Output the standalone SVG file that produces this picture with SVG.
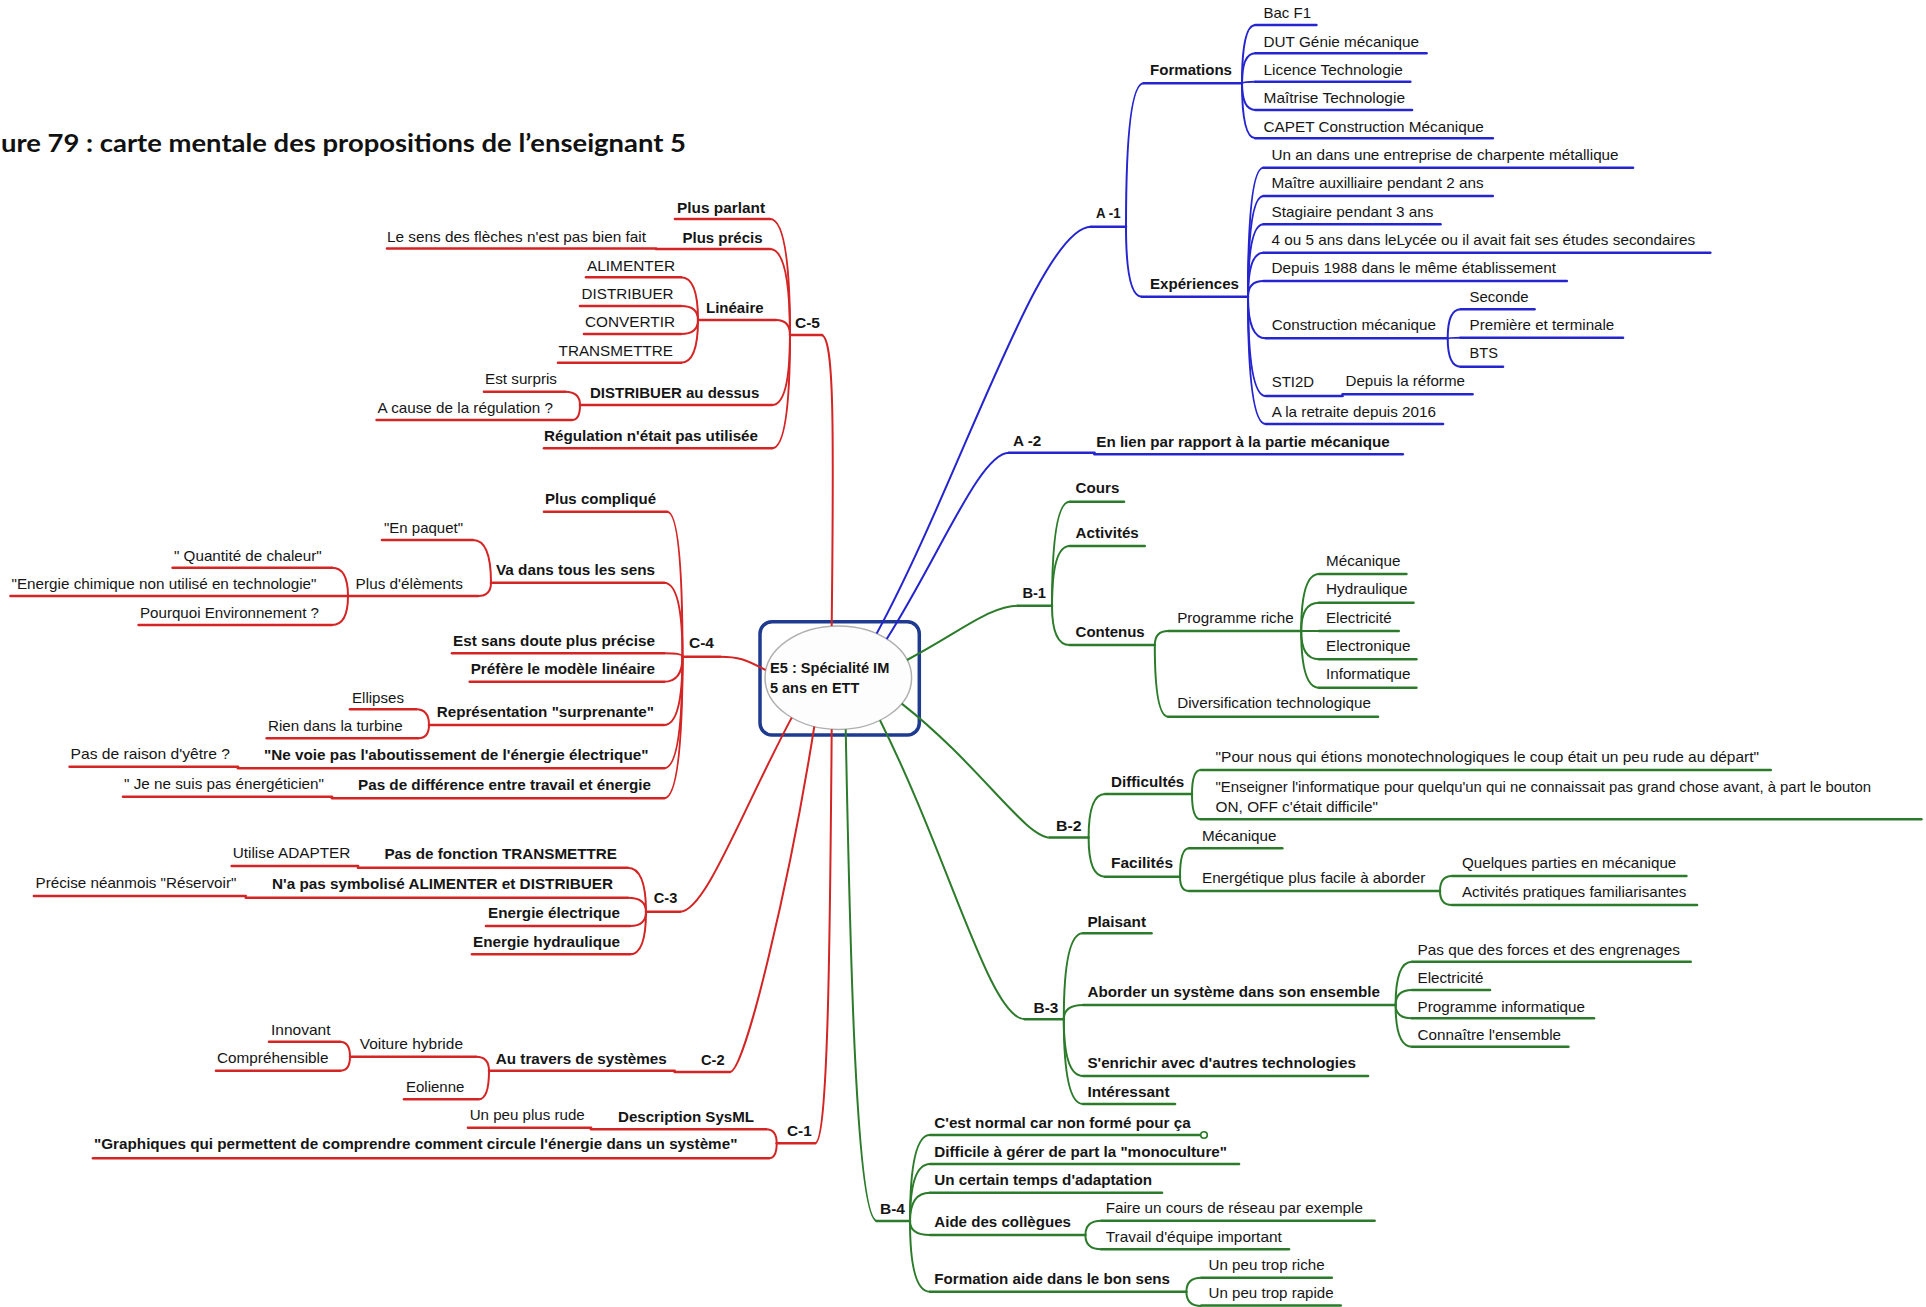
<svg xmlns="http://www.w3.org/2000/svg" width="1926" height="1307" viewBox="0 0 1926 1307">
<style>
.t{font-family:"Liberation Sans",Arial,sans-serif;font-size:15px;fill:#151515}
.b{font-weight:bold}
.ur{stroke:#d42424;stroke-width:2.6;fill:none;stroke-linecap:round}
.ub{stroke:#2424d0;stroke-width:2.6;fill:none;stroke-linecap:round}
.ug{stroke:#2b7b2b;stroke-width:2.6;fill:none;stroke-linecap:round}
.cr{stroke:#d42424;stroke-width:2;fill:none}
.cb{stroke:#2424d0;stroke-width:2;fill:none}
.cg{stroke:#2b7b2b;stroke-width:2;fill:none}
</style>
<rect width="1926" height="1307" fill="#fff"/>
<text x="1" y="152" font-family="Lato,'Liberation Sans',sans-serif" font-weight="bold" font-size="24" fill="#111" textLength="685" lengthAdjust="spacingAndGlyphs">ure 79 : carte mentale des propositions de l’enseignant 5</text>

<g id="center">
<rect x="760" y="621.7" width="159.3" height="113.3" rx="12" fill="#fff" stroke="#1f3b8f" stroke-width="3.5"/>
<ellipse cx="838.3" cy="677.7" rx="73.3" ry="51.7" fill="#fdfdfd" stroke="#b0b0b0" stroke-width="1.5"/>
<text class="t b" x="770" y="673.3" fill="#1a1a3a" textLength="119.3" lengthAdjust="spacingAndGlyphs">E5 : Spécialité IM</text>
<text class="t b" x="770" y="693.3" fill="#1a1a3a" textLength="89.3" lengthAdjust="spacingAndGlyphs">5 ans en ETT</text>
</g>

<g id="connectors">
<g class="cr">
<path d="M831.7 626C834 420 834 335 821 335"/>
<path d="M765.5 670C745 659 738 656.7 720 656.7"/>
<path d="M791.7 717.6C740 815 705 911.7 680 911.7"/>
<path d="M814.3 726.5C790 880 745 1072 730 1072"/>
<path d="M831.7 729.3C830 950 828 1143.3 815 1143.3"/>
<path d="M790 335Q790 219 770 219"/>
<path d="M790 335Q790 249 770 249"/>
<path d="M790 335Q790 320 776 320"/>
<path d="M790 335Q790 405 772 405"/>
<path d="M790 335Q790 448.3 772 448.3"/>
<path d="M698 320Q698 277.3 681 277.3"/>
<path d="M698 320Q698 306 681 306"/>
<path d="M698 320Q698 334 681 334"/>
<path d="M698 320Q698 362.7 681 362.7"/>
<path d="M580 405Q580 391.7 565 391.7"/>
<path d="M580 405Q580 420 572 420"/>
<path d="M682.5 656.7Q682.5 511.7 667 511.7"/>
<path d="M682.5 656.7Q682.5 582.7 664 582.7"/>
<path d="M682.5 656.7Q682.5 653.3 664 653.3"/>
<path d="M682.5 656.7Q682.5 681.7 664 681.7"/>
<path d="M682.5 656.7Q682.5 725 664 725"/>
<path d="M682.5 656.7Q682.5 768.3 664 768.3"/>
<path d="M682.5 656.7Q682.5 798.3 664 798.3"/>
<path d="M491 582.7Q491 540 473 540"/>
<path d="M491 582.7Q491 596 478 596"/>
<path d="M348 596Q348 567.7 332 567.7"/>
<path d="M348 596Q348 625 332 625"/>
<path d="M429 725Q429 709.3 416 709.3"/>
<path d="M429 725Q429 738.3 418 738.3"/>
<path d="M646 911.7Q646 867.7 627.6 867.7"/>
<path d="M646 911.7Q646 897.7 627.6 897.7"/>
<path d="M646 911.7Q646 926 630 926"/>
<path d="M646 911.7Q646 954.3 630 954.3"/>
<path d="M489 1070.7Q489 1056.7 476 1056.7"/>
<path d="M489 1070.7Q489 1099.3 478.5 1099.3"/>
<path d="M350 1056.7Q350 1041.7 340 1041.7"/>
<path d="M350 1056.7Q350 1070.7 340 1070.7"/>
<path d="M776.7 1143.3Q776.7 1129.3 766 1129.3"/>
<path d="M776.7 1143.3Q776.7 1158.3 768.8 1158.3"/>
</g>
<g class="cb">
<path d="M876.7 633.5C960 480 1040 226.7 1091 226.7"/>
<path d="M886.7 639C940 555 980 452.7 1009 452.7"/>
<path d="M1126 226.7Q1126 83.3 1143.7 83.3"/>
<path d="M1126 226.7Q1126 296.7 1141.8 296.7"/>
<path d="M1242 83.3Q1242 25 1255.4 25"/>
<path d="M1242 83.3Q1242 53.3 1255.4 53.3"/>
<path d="M1242 83.3Q1242 81.7 1255.4 81.7"/>
<path d="M1242 83.3Q1242 110 1255.4 110"/>
<path d="M1242 83.3Q1242 138.3 1255.4 138.3"/>
<path d="M1248 296.7Q1248 167.7 1263.5 167.7"/>
<path d="M1248 296.7Q1248 196 1263.5 196"/>
<path d="M1248 296.7Q1248 224.3 1263.5 224.3"/>
<path d="M1248 296.7Q1248 252.7 1263.5 252.7"/>
<path d="M1248 296.7Q1248 281 1263.5 281"/>
<path d="M1248 296.7Q1248 338.3 1265.8 338.3"/>
<path d="M1248 296.7Q1248 396 1265.8 396"/>
<path d="M1248 296.7Q1248 424 1265.8 424"/>
<path d="M1447.7 338.3Q1447.7 309.3 1460.7 309.3"/>
<path d="M1447.7 338.3Q1447.7 337.7 1460.7 337.7"/>
<path d="M1447.7 338.3Q1447.7 366.7 1460.7 366.7"/>
</g>
<g class="cg">
<path d="M907 660C960 632 990 605.7 1018 605.7"/>
<path d="M901.7 703.6C980 765 1025 837.5 1050 837.5"/>
<path d="M880 720.2C950 860 990 1019.3 1025 1019.3"/>
<path d="M845.7 729.3C850 950 856 1221 877 1221"/>
<path d="M1052 605.7Q1052 501.7 1069.7 501.7"/>
<path d="M1052 605.7Q1052 546 1069.7 546"/>
<path d="M1052 605.7Q1052 645 1069.7 645"/>
<path d="M1154.8 645Q1154.8 631 1168.3 631"/>
<path d="M1154.8 645Q1154.8 716.7 1168.3 716.7"/>
<path d="M1301.2 631Q1301.2 574 1319 574"/>
<path d="M1301.2 631Q1301.2 602.7 1319 602.7"/>
<path d="M1301.2 631L1319 631"/>
<path d="M1301.2 631Q1301.2 659.3 1319 659.3"/>
<path d="M1301.2 631Q1301.2 687.7 1319 687.7"/>
<path d="M1088.6 837.5Q1088.6 794 1105 794"/>
<path d="M1088.6 837.5Q1088.6 876.7 1105 876.7"/>
<path d="M1192 794Q1192 770 1200.8 770"/>
<path d="M1192 794Q1192 819.3 1200.8 819.3"/>
<path d="M1180 876.7Q1180 848.3 1189 848.3"/>
<path d="M1180 876.7Q1180 891 1189 891"/>
<path d="M1440 891Q1440 876 1451.9 876"/>
<path d="M1440 891Q1440 905 1451.9 905"/>
<path d="M1063.8 1019.3Q1063.8 933.3 1083 933.3"/>
<path d="M1063.8 1019.3Q1063.8 1005 1083 1005"/>
<path d="M1063.8 1019.3Q1063.8 1076 1083 1076"/>
<path d="M1063.8 1019.3Q1063.8 1104 1083 1104"/>
<path d="M1395.6 1005Q1395.6 961.7 1412 961.7"/>
<path d="M1395.6 1005Q1395.6 990 1412 990"/>
<path d="M1395.6 1005Q1395.6 1018.3 1412 1018.3"/>
<path d="M1395.6 1005Q1395.6 1046.7 1412 1046.7"/>
<path d="M910 1221Q910 1135 930 1135"/>
<path d="M910 1221Q910 1164 930 1164"/>
<path d="M910 1221Q910 1192.7 930 1192.7"/>
<path d="M910 1221Q910 1235 930 1235"/>
<path d="M910 1221Q910 1291.7 930 1291.7"/>
<path d="M1085.4 1235Q1085.4 1220.7 1101.4 1220.7"/>
<path d="M1085.4 1235Q1085.4 1249.3 1101.4 1249.3"/>
<path d="M1186.4 1291.7Q1186.4 1277.7 1201.4 1277.7"/>
<path d="M1186.4 1291.7Q1186.4 1306 1201.4 1306"/>
</g>
</g>

<!-- C-5 -->
<g id="c5"><path class="ur" d="M790 335H822"/><text class="t b" x="795" y="327.7" textLength="25" lengthAdjust="spacingAndGlyphs">C-5</text></g>
<g id="c5-parlant"><path class="ur" d="M675 219H770"/><text class="t b" x="677" y="212.5" textLength="88" lengthAdjust="spacingAndGlyphs">Plus parlant</text></g>
<g id="c5-precis"><path class="ur" d="M656 249H770"/><text class="t b" x="682.5" y="242.5" textLength="80" lengthAdjust="spacingAndGlyphs">Plus précis</text></g>
<g id="c5-sens"><path class="ur" d="M387 248.5H656"/><text class="t" x="387" y="241.5" textLength="259" lengthAdjust="spacingAndGlyphs">Le sens des flèches n'est pas bien fait</text></g>
<g id="c5-lineaire"><path class="ur" d="M698 320H776"/><text class="t b" x="706" y="313.3" textLength="57.6" lengthAdjust="spacingAndGlyphs">Linéaire</text></g>
<g id="c5-alim"><path class="ur" d="M586 277.3H681"/><text class="t" x="587" y="270.7" textLength="88" lengthAdjust="spacingAndGlyphs">ALIMENTER</text></g>
<g id="c5-distr"><path class="ur" d="M580 306H681"/><text class="t" x="581.6" y="299.3" textLength="92" lengthAdjust="spacingAndGlyphs">DISTRIBUER</text></g>
<g id="c5-conv"><path class="ur" d="M584 334H681"/><text class="t" x="585" y="327.3" textLength="90" lengthAdjust="spacingAndGlyphs">CONVERTIR</text></g>
<g id="c5-trans"><path class="ur" d="M558 362.7H681"/><text class="t" x="558.6" y="355.7" textLength="114.4" lengthAdjust="spacingAndGlyphs">TRANSMETTRE</text></g>
<g id="c5-distdessus"><path class="ur" d="M580 405H772"/><text class="t b" x="590" y="398.3" textLength="169.4" lengthAdjust="spacingAndGlyphs">DISTRIBUER au dessus</text></g>
<g id="c5-surpris"><path class="ur" d="M484 391.7H565"/><text class="t" x="485" y="384.3" textLength="72" lengthAdjust="spacingAndGlyphs">Est surpris</text></g>
<g id="c5-cause"><path class="ur" d="M376.6 420H572"/><text class="t" x="377.6" y="412.7" textLength="175.4" lengthAdjust="spacingAndGlyphs">A cause de la régulation ?</text></g>
<g id="c5-regul"><path class="ur" d="M544 448.3H772"/><text class="t b" x="544" y="440.7" textLength="214" lengthAdjust="spacingAndGlyphs">Régulation n'était pas utilisée</text></g>

<!-- C-4 -->
<g id="c4"><path class="ur" d="M682.5 656.7H720"/><text class="t b" x="689" y="648.3" textLength="25" lengthAdjust="spacingAndGlyphs">C-4</text></g>
<g id="c4-complique"><path class="ur" d="M544 511.7H667"/><text class="t b" x="545" y="504" textLength="111" lengthAdjust="spacingAndGlyphs">Plus compliqué</text></g>
<g id="c4-vadans"><path class="ur" d="M491 582.7H664"/><text class="t b" x="496" y="575" textLength="159" lengthAdjust="spacingAndGlyphs">Va dans tous les sens</text></g>
<g id="c4-paquet"><path class="ur" d="M382 540H473"/><text class="t" x="384" y="532.7" textLength="79" lengthAdjust="spacingAndGlyphs">"En paquet"</text></g>
<g id="c4-pluselem"><path class="ur" d="M348 596H478"/><text class="t" x="355.6" y="589.3" textLength="107.4" lengthAdjust="spacingAndGlyphs">Plus d'élèments</text></g>
<g id="c4-chaleur"><path class="ur" d="M172.6 567.7H332"/><text class="t" x="174" y="560.7" textLength="147.7" lengthAdjust="spacingAndGlyphs">" Quantité de chaleur"</text></g>
<g id="c4-chimique"><path class="ur" d="M10.5 596H348"/><text class="t" x="11.5" y="589.3" textLength="305" lengthAdjust="spacingAndGlyphs">"Energie chimique non utilisé en technologie"</text></g>
<g id="c4-environ"><path class="ur" d="M138.6 625H332"/><text class="t" x="140" y="617.7" textLength="179" lengthAdjust="spacingAndGlyphs">Pourquoi Environnement ?</text></g>
<g id="c4-sansdoute"><path class="ur" d="M452 653.3H664"/><text class="t b" x="453" y="646" textLength="202" lengthAdjust="spacingAndGlyphs">Est sans doute plus précise</text></g>
<g id="c4-prefere"><path class="ur" d="M469.7 681.7H664"/><text class="t b" x="470.7" y="674.3" textLength="184.3" lengthAdjust="spacingAndGlyphs">Préfère le modèle linéaire</text></g>
<g id="c4-repr"><path class="ur" d="M429 725H664"/><text class="t b" x="436.7" y="716.7" textLength="217.3" lengthAdjust="spacingAndGlyphs">Représentation "surprenante"</text></g>
<g id="c4-ellipses"><path class="ur" d="M350 709.3H416"/><text class="t" x="352" y="702.7" textLength="52" lengthAdjust="spacingAndGlyphs">Ellipses</text></g>
<g id="c4-turbine"><path class="ur" d="M266.7 738.3H418"/><text class="t" x="268" y="730.7" textLength="134.7" lengthAdjust="spacingAndGlyphs">Rien dans la turbine</text></g>
<g id="c4-nevoie"><path class="ur" d="M238 768.3H664"/><text class="t b" x="264" y="760" textLength="384.5" lengthAdjust="spacingAndGlyphs">"Ne voie pas l'aboutissement de l'énergie électrique"</text></g>
<g id="c4-raison"><path class="ur" d="M69.6 766.7H238"/><text class="t" x="70.6" y="759" textLength="159.4" lengthAdjust="spacingAndGlyphs">Pas de raison d'yêtre ?</text></g>
<g id="c4-difference"><path class="ur" d="M332 798.3H664"/><text class="t b" x="358" y="790" textLength="293" lengthAdjust="spacingAndGlyphs">Pas de différence entre travail et énergie</text></g>
<g id="c4-energeticien"><path class="ur" d="M123 796.7H332"/><text class="t" x="124" y="789.3" textLength="200" lengthAdjust="spacingAndGlyphs">" Je ne suis pas énergéticien"</text></g>

<!-- C-3 -->
<g id="c3"><path class="ur" d="M646 911.7H680"/><text class="t b" x="653.8" y="903.3" textLength="23.5" lengthAdjust="spacingAndGlyphs">C-3</text></g>
<g id="c3-transm"><path class="ur" d="M358 867.7H627.6"/><text class="t b" x="384.4" y="859.3" textLength="232.6" lengthAdjust="spacingAndGlyphs">Pas de fonction TRANSMETTRE</text></g>
<g id="c3-adapter"><path class="ur" d="M231.7 866H358"/><text class="t" x="232.7" y="858.3" textLength="117.7" lengthAdjust="spacingAndGlyphs">Utilise ADAPTER</text></g>
<g id="c3-symb"><path class="ur" d="M245.8 897.7H627.6"/><text class="t b" x="272" y="889.3" textLength="341" lengthAdjust="spacingAndGlyphs">N'a pas symbolisé ALIMENTER et DISTRIBUER</text></g>
<g id="c3-reservoir"><path class="ur" d="M34 896H245.8"/><text class="t" x="35.6" y="888.3" textLength="200.8" lengthAdjust="spacingAndGlyphs">Précise néanmois "Réservoir"</text></g>
<g id="c3-elec"><path class="ur" d="M486 926H630"/><text class="t b" x="488" y="918.3" textLength="132" lengthAdjust="spacingAndGlyphs">Energie électrique</text></g>
<g id="c3-hydr"><path class="ur" d="M472 954.3H630"/><text class="t b" x="473" y="946.7" textLength="147" lengthAdjust="spacingAndGlyphs">Energie hydraulique</text></g>

<!-- C-2 -->
<g id="c2"><path class="ur" d="M674.7 1072H730"/><text class="t b" x="701" y="1065" textLength="23.6" lengthAdjust="spacingAndGlyphs">C-2</text></g>
<g id="c2-travers"><path class="ur" d="M489 1070.7H674.7"/><text class="t b" x="495.8" y="1064" textLength="171" lengthAdjust="spacingAndGlyphs">Au travers de systèmes</text></g>
<g id="c2-voiture"><path class="ur" d="M350 1056.7H476"/><text class="t" x="359.8" y="1049.3" textLength="103.2" lengthAdjust="spacingAndGlyphs">Voiture hybride</text></g>
<g id="c2-innovant"><path class="ur" d="M269 1041.7H340"/><text class="t" x="271" y="1035" textLength="59.5" lengthAdjust="spacingAndGlyphs">Innovant</text></g>
<g id="c2-compr"><path class="ur" d="M216 1070.7H340"/><text class="t" x="217" y="1063.3" textLength="111.5" lengthAdjust="spacingAndGlyphs">Compréhensible</text></g>
<g id="c2-eolienne"><path class="ur" d="M404 1099.3H478.5"/><text class="t" x="406" y="1091.7" textLength="58.4" lengthAdjust="spacingAndGlyphs">Eolienne</text></g>

<!-- C-1 -->
<g id="c1"><path class="ur" d="M776.7 1143.3H815"/><text class="t b" x="787" y="1136" textLength="24.7" lengthAdjust="spacingAndGlyphs">C-1</text></g>
<g id="c1-sysml"><path class="ur" d="M591 1129.3H766"/><text class="t b" x="618" y="1121.7" textLength="136" lengthAdjust="spacingAndGlyphs">Description SysML</text></g>
<g id="c1-rude"><path class="ur" d="M468 1127.7H591"/><text class="t" x="469.7" y="1120" textLength="115" lengthAdjust="spacingAndGlyphs">Un peu plus rude</text></g>
<g id="c1-graph"><path class="ur" d="M93 1158.3H768.8"/><text class="t b" x="94" y="1149" textLength="643.4" lengthAdjust="spacingAndGlyphs">"Graphiques qui permettent de comprendre comment circule l'énergie dans un système"</text></g>

<!-- A-1 -->
<g id="a1"><path class="ub" d="M1090.8 226.7H1126"/><text class="t b" x="1096" y="218.3" textLength="24.5" lengthAdjust="spacingAndGlyphs">A -1</text></g>
<g id="a1-formations"><path class="ub" d="M1143.7 83.3H1242"/><text class="t b" x="1150" y="75" textLength="82" lengthAdjust="spacingAndGlyphs">Formations</text></g>
<g id="a1-bac"><path class="ub" d="M1255.4 25H1316.4"/><text class="t" x="1263.5" y="18.3" textLength="47.5" lengthAdjust="spacingAndGlyphs">Bac F1</text></g>
<g id="a1-dut"><path class="ub" d="M1255.4 53.3H1426.5"/><text class="t" x="1263.5" y="46.7" textLength="155.5" lengthAdjust="spacingAndGlyphs">DUT Génie mécanique</text></g>
<g id="a1-licence"><path class="ub" d="M1255.4 81.7H1410.3"/><text class="t" x="1263.5" y="75" textLength="139.2" lengthAdjust="spacingAndGlyphs">Licence Technologie</text></g>
<g id="a1-maitrise"><path class="ub" d="M1255.4 110H1412"/><text class="t" x="1263.5" y="103.3" textLength="141.5" lengthAdjust="spacingAndGlyphs">Maîtrise Technologie</text></g>
<g id="a1-capet"><path class="ub" d="M1255.4 138.3H1492.8"/><text class="t" x="1263.5" y="131.7" textLength="220.2" lengthAdjust="spacingAndGlyphs">CAPET Construction Mécanique</text></g>
<g id="a1-exp"><path class="ub" d="M1141.8 296.7H1248"/><text class="t b" x="1150" y="289.3" textLength="89" lengthAdjust="spacingAndGlyphs">Expériences</text></g>
<g id="a1-charpente"><path class="ub" d="M1263.5 167.7H1633"/><text class="t" x="1271.6" y="160" textLength="347" lengthAdjust="spacingAndGlyphs">Un an dans une entreprise de charpente métallique</text></g>
<g id="a1-maitre"><path class="ub" d="M1263.5 196H1492.8"/><text class="t" x="1271.6" y="188.3" textLength="212.1" lengthAdjust="spacingAndGlyphs">Maître auxilliaire pendant 2 ans</text></g>
<g id="a1-stagiaire"><path class="ub" d="M1263.5 224.3H1440.5"/><text class="t" x="1271.6" y="216.7" textLength="161.9" lengthAdjust="spacingAndGlyphs">Stagiaire pendant 3 ans</text></g>
<g id="a1-lycee"><path class="ub" d="M1263.5 252.7H1710.3"/><text class="t" x="1271.6" y="245" textLength="423.6" lengthAdjust="spacingAndGlyphs">4 ou 5 ans dans leLycée ou il avait fait ses études secondaires</text></g>
<g id="a1-1988"><path class="ub" d="M1263.5 281H1566.8"/><text class="t" x="1271.6" y="273.3" textLength="284.4" lengthAdjust="spacingAndGlyphs">Depuis 1988 dans le même établissement</text></g>
<g id="a1-constr"><path class="ub" d="M1265.8 338.3H1447.7"/><text class="t" x="1271.7" y="330" textLength="164.3" lengthAdjust="spacingAndGlyphs">Construction mécanique</text></g>
<g id="a1-seconde"><path class="ub" d="M1460.7 309.3H1534.5"/><text class="t" x="1469.6" y="301.7" textLength="59" lengthAdjust="spacingAndGlyphs">Seconde</text></g>
<g id="a1-premiere"><path class="ub" d="M1460.7 337.7H1623"/><text class="t" x="1469.6" y="330" textLength="144.7" lengthAdjust="spacingAndGlyphs">Première et terminale</text></g>
<g id="a1-bts"><path class="ub" d="M1460.7 366.7H1503"/><text class="t" x="1469.6" y="358.3" textLength="28.4" lengthAdjust="spacingAndGlyphs">BTS</text></g>
<g id="a1-sti2d"><path class="ub" d="M1265.8 396H1342.6"/><text class="t" x="1271.7" y="387.3" textLength="42.3" lengthAdjust="spacingAndGlyphs">STI2D</text></g>
<g id="a1-reforme"><path class="ub" d="M1342.6 394.3H1472.5"/><text class="t" x="1345.5" y="386" textLength="119.4" lengthAdjust="spacingAndGlyphs">Depuis la réforme</text></g>
<g id="a1-retraite"><path class="ub" d="M1265.8 424H1443"/><text class="t" x="1271.7" y="416.7" textLength="164.3" lengthAdjust="spacingAndGlyphs">A la retraite depuis 2016</text></g>

<!-- A-2 -->
<g id="a2"><path class="ub" d="M1009 452.7H1094.5"/><text class="t b" x="1013" y="445.7" textLength="28.3" lengthAdjust="spacingAndGlyphs">A -2</text></g>
<g id="a2-lien"><path class="ub" d="M1094.5 454.3H1402.8"/><text class="t b" x="1096.3" y="446.7" textLength="293.5" lengthAdjust="spacingAndGlyphs">En lien par rapport à la partie mécanique</text></g>

<!-- B-1 -->
<g id="b1"><path class="ug" d="M1017.7 605.7H1052"/><text class="t b" x="1022.4" y="598.3" textLength="23.6" lengthAdjust="spacingAndGlyphs">B-1</text></g>
<g id="b1-cours"><path class="ug" d="M1069.7 501.7H1124"/><text class="t b" x="1075.6" y="493.3" textLength="43.7" lengthAdjust="spacingAndGlyphs">Cours</text></g>
<g id="b1-activites"><path class="ug" d="M1069.7 546H1144.7"/><text class="t b" x="1075.6" y="538.3" textLength="63.2" lengthAdjust="spacingAndGlyphs">Activités</text></g>
<g id="b1-contenus"><path class="ug" d="M1069.7 645H1154.8"/><text class="t b" x="1075.6" y="636.7" textLength="69.1" lengthAdjust="spacingAndGlyphs">Contenus</text></g>
<g id="b1-programme"><path class="ug" d="M1168.3 631H1301.2"/><text class="t" x="1177.2" y="622.7" textLength="116.4" lengthAdjust="spacingAndGlyphs">Programme riche</text></g>
<g id="b1-diversif"><path class="ug" d="M1168.3 716.7H1378"/><text class="t" x="1177.2" y="708.3" textLength="193.8" lengthAdjust="spacingAndGlyphs">Diversification technologique</text></g>
<g id="b1-meca"><path class="ug" d="M1319 574H1406.4"/><text class="t" x="1326" y="566" textLength="74.5" lengthAdjust="spacingAndGlyphs">Mécanique</text></g>
<g id="b1-hydr"><path class="ug" d="M1319 602.7H1413.5"/><text class="t" x="1326" y="594.3" textLength="81.6" lengthAdjust="spacingAndGlyphs">Hydraulique</text></g>
<g id="b1-elec"><path class="ug" d="M1319 631H1398.7"/><text class="t" x="1326" y="622.7" textLength="65.6" lengthAdjust="spacingAndGlyphs">Electricité</text></g>
<g id="b1-electro"><path class="ug" d="M1319 659.3H1416.4"/><text class="t" x="1326" y="651" textLength="84.5" lengthAdjust="spacingAndGlyphs">Electronique</text></g>
<g id="b1-info"><path class="ug" d="M1319 687.7H1416.4"/><text class="t" x="1326" y="679.3" textLength="84.5" lengthAdjust="spacingAndGlyphs">Informatique</text></g>

<!-- B-2 -->
<g id="b2"><path class="ug" d="M1050 837.5H1088.6"/><text class="t b" x="1056" y="831" textLength="25.5" lengthAdjust="spacingAndGlyphs">B-2</text></g>
<g id="b2-diff"><path class="ug" d="M1105 794H1192"/><text class="t b" x="1111" y="786.7" textLength="73.3" lengthAdjust="spacingAndGlyphs">Difficultés</text></g>
<g id="b2-pournous"><path class="ug" d="M1200.8 770H1770.8"/><text class="t" x="1215.6" y="761.7" textLength="543.4" lengthAdjust="spacingAndGlyphs">"Pour nous qui étions monotechnologiques le coup était un peu rude au départ"</text></g>
<g id="b2-enseigner"><path class="ug" d="M1200.8 819.3H1921.4"/><text class="t" x="1215.6" y="791.7" textLength="655.4" lengthAdjust="spacingAndGlyphs">"Enseigner l'informatique pour quelqu'un qui ne connaissait pas grand chose avant, à part le bouton</text><text class="t" x="1215.6" y="811.7" textLength="162.4" lengthAdjust="spacingAndGlyphs">ON, OFF c'était difficile"</text></g>
<g id="b2-facilites"><path class="ug" d="M1105 876.7H1180"/><text class="t b" x="1111" y="868.3" textLength="62" lengthAdjust="spacingAndGlyphs">Facilités</text></g>
<g id="b2-meca"><path class="ug" d="M1189 848.3H1282.3"/><text class="t" x="1202" y="840.7" textLength="74.4" lengthAdjust="spacingAndGlyphs">Mécanique</text></g>
<g id="b2-energetique"><path class="ug" d="M1189 891H1440"/><text class="t" x="1202" y="883.3" textLength="223.3" lengthAdjust="spacingAndGlyphs">Energétique plus facile à aborder</text></g>
<g id="b2-quelques"><path class="ug" d="M1451.9 876H1686.4"/><text class="t" x="1462" y="868.3" textLength="214.3" lengthAdjust="spacingAndGlyphs">Quelques parties en mécanique</text></g>
<g id="b2-pratiques"><path class="ug" d="M1451.9 905H1697"/><text class="t" x="1462" y="896.7" textLength="224.4" lengthAdjust="spacingAndGlyphs">Activités pratiques familiarisantes</text></g>

<!-- B-3 -->
<g id="b3"><path class="ug" d="M1025 1019.3H1063.8"/><text class="t b" x="1033.6" y="1012.5" textLength="24.7" lengthAdjust="spacingAndGlyphs">B-3</text></g>
<g id="b3-plaisant"><path class="ug" d="M1083 933.3H1151.5"/><text class="t b" x="1087.4" y="926.7" textLength="58.6" lengthAdjust="spacingAndGlyphs">Plaisant</text></g>
<g id="b3-aborder"><path class="ug" d="M1083 1005H1395.6"/><text class="t b" x="1087.4" y="996.7" textLength="292.6" lengthAdjust="spacingAndGlyphs">Aborder un système dans son ensemble</text></g>
<g id="b3-forces"><path class="ug" d="M1412 961.7H1690.7"/><text class="t" x="1417.6" y="955" textLength="262.4" lengthAdjust="spacingAndGlyphs">Pas que des forces et des engrenages</text></g>
<g id="b3-elec"><path class="ug" d="M1412 990H1490"/><text class="t" x="1417.6" y="983.3" textLength="65.8" lengthAdjust="spacingAndGlyphs">Electricité</text></g>
<g id="b3-progr"><path class="ug" d="M1412 1018.3H1594"/><text class="t" x="1417.6" y="1011.7" textLength="167.4" lengthAdjust="spacingAndGlyphs">Programme informatique</text></g>
<g id="b3-connaitre"><path class="ug" d="M1412 1046.7H1568.4"/><text class="t" x="1417.6" y="1040" textLength="143.4" lengthAdjust="spacingAndGlyphs">Connaître l'ensemble</text></g>
<g id="b3-enrichir"><path class="ug" d="M1083 1076H1368"/><text class="t b" x="1087.4" y="1068.3" textLength="268.6" lengthAdjust="spacingAndGlyphs">S'enrichir avec d'autres technologies</text></g>
<g id="b3-interessant"><path class="ug" d="M1083 1104H1175"/><text class="t b" x="1087.4" y="1096.7" textLength="82.2" lengthAdjust="spacingAndGlyphs">Intéressant</text></g>

<!-- B-4 -->
<g id="b4"><path class="ug" d="M876.7 1221H910"/><text class="t b" x="880" y="1213.5" textLength="25" lengthAdjust="spacingAndGlyphs">B-4</text></g>
<g id="b4-normal"><path class="ug" d="M930 1135H1200.5"/><circle cx="1204" cy="1135" r="3.3" fill="#fff" stroke="#2b7b2b" stroke-width="1.6"/><text class="t b" x="934.3" y="1128.3" textLength="256.4" lengthAdjust="spacingAndGlyphs">C'est normal car non formé pour ça</text></g>
<g id="b4-difficile"><path class="ug" d="M930 1164H1239"/><text class="t b" x="934.3" y="1156.7" textLength="292.7" lengthAdjust="spacingAndGlyphs">Difficile à gérer de part la "monoculture"</text></g>
<g id="b4-temps"><path class="ug" d="M930 1192.7H1162"/><text class="t b" x="934.3" y="1185" textLength="217.7" lengthAdjust="spacingAndGlyphs">Un certain temps d'adaptation</text></g>
<g id="b4-aide"><path class="ug" d="M930 1235H1085.4"/><text class="t b" x="934.3" y="1227.3" textLength="136.7" lengthAdjust="spacingAndGlyphs">Aide des collègues</text></g>
<g id="b4-reseau"><path class="ug" d="M1101.4 1220.7H1374.6"/><text class="t" x="1105.7" y="1213.3" textLength="257.2" lengthAdjust="spacingAndGlyphs">Faire un cours de réseau par exemple</text></g>
<g id="b4-equipe"><path class="ug" d="M1101.4 1249.3H1289"/><text class="t" x="1105.7" y="1241.7" textLength="176.1" lengthAdjust="spacingAndGlyphs">Travail d'équipe important</text></g>
<g id="b4-formation"><path class="ug" d="M930 1291.7H1186.4"/><text class="t b" x="934.3" y="1284" textLength="235.7" lengthAdjust="spacingAndGlyphs">Formation aide dans le bon sens</text></g>
<g id="b4-riche"><path class="ug" d="M1201.4 1277.7H1331.8"/><text class="t" x="1208.6" y="1270" textLength="116" lengthAdjust="spacingAndGlyphs">Un peu trop riche</text></g>
<g id="b4-rapide"><path class="ug" d="M1201.4 1305.5H1340.7"/><text class="t" x="1208.6" y="1298.3" textLength="125" lengthAdjust="spacingAndGlyphs">Un peu trop rapide</text></g>
</svg>
